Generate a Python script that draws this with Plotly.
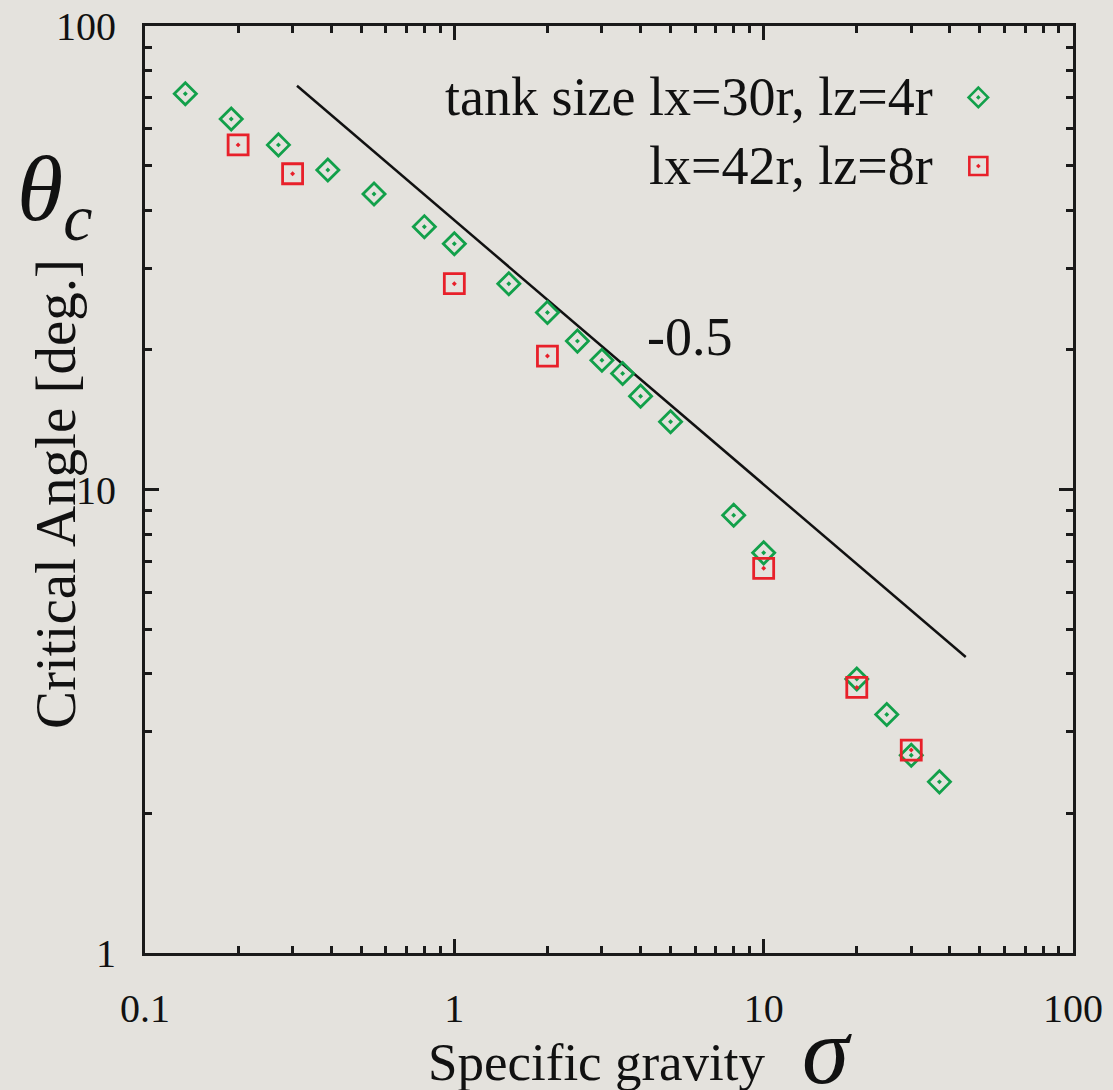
import plotly.graph_objects as go

# ---- data ----
sigma_small = [0.135, 0.19, 0.27, 0.39, 0.55, 0.8, 1.0, 1.5, 2.0, 2.5, 3.0, 3.5, 4.0, 5.0, 8.0, 10.0, 20.0, 25.0, 30.0, 37.0]
theta_small = [71.4, 63.0, 55.4, 48.9, 43.4, 36.9, 33.9, 27.8, 24.1, 20.9, 19.0, 17.8, 15.9, 14.0, 8.8, 7.3, 3.9, 3.27, 2.67, 2.34]

sigma_large = [0.2, 0.3, 1.0, 2.0, 10.0, 20.0, 30.0]
theta_large = [55.4, 48.0, 27.8, 19.4, 6.76, 3.74, 2.74]

fit_x = [0.31, 45.0]
fit_y = [74.3, 4.35]

legend_labels = ["tank size lx=30r, lz=4r", "lx=42r, lz=8r"]
x_tickvals = [0.1, 1, 10, 100]
x_ticktext = ["0.1", "1", "10", "100"]
y_tickvals = [1, 10, 100]
y_ticktext = ["1", "10", "100"]
x_minor = [m * d for d in (0.1, 1, 10) for m in range(2, 10)]
y_minor = [m * d for d in (1, 10) for m in range(2, 10)]

GREEN = "#12a04a"
RED = "#e8202a"
BG = "#e4e2dd"
FONT = "Times New Roman, Liberation Serif, Times, serif"
INK = "#1a1a1a"

fig = go.Figure()
fig.add_trace(go.Scatter(x=fit_x, y=fit_y, mode="lines",
                         line=dict(color="#111111", width=2.5), showlegend=False))
fig.add_trace(go.Scatter(x=sigma_small, y=theta_small, mode="markers",
                         marker=dict(symbol="diamond-open-dot", size=17, color=GREEN,
                                     line=dict(width=2.8, color=GREEN)),
                         showlegend=False))
fig.add_trace(go.Scatter(x=sigma_large, y=theta_large, mode="markers",
                         marker=dict(symbol="square-open-dot", size=20, color=RED,
                                     line=dict(width=2.8, color=RED)),
                         showlegend=False))

# legend keys on an overlay axis (0..1)
fig.add_trace(go.Scatter(x=[0.898], y=[0.923], xaxis="x2", yaxis="y2", mode="markers",
                         marker=dict(symbol="diamond-open-dot", size=15, color=GREEN,
                                     line=dict(width=2.6, color=GREEN)), showlegend=False))
fig.add_trace(go.Scatter(x=[0.898], y=[0.849], xaxis="x2", yaxis="y2", mode="markers",
                         marker=dict(symbol="square-open-dot", size=18, color=RED,
                                     line=dict(width=2.6, color=RED)), showlegend=False))

axis_common = dict(
    type="log", showgrid=False, zeroline=False, automargin=False,
    showline=True, linecolor=INK, linewidth=3, mirror="allticks",
    ticks="inside", ticklen=14, tickwidth=2.5, tickcolor=INK,
    tickfont=dict(family=FONT, size=40, color="#111111"),
)

fig.update_layout(
    width=1113, height=1090,
    margin=dict(l=145, r=40, t=26, b=137),
    paper_bgcolor=BG, plot_bgcolor=BG,
    font=dict(family=FONT, color="#111111"),
    xaxis=dict(range=[-1, 2], tickmode="array", tickvals=x_tickvals, ticktext=x_ticktext,
               ticklabelstandoff=18,
               minor=dict(tickmode="array", tickvals=x_minor, ticks="inside", ticklen=7,
                          tickwidth=2.5, tickcolor=INK, showgrid=False),
               **axis_common),
    yaxis=dict(range=[0, 2], tickmode="array", tickvals=y_tickvals, ticktext=y_ticktext,
               ticklabelstandoff=18,
               minor=dict(tickmode="array", tickvals=y_minor, ticks="inside", ticklen=7,
                          tickwidth=2.5, tickcolor=INK, showgrid=False),
               **axis_common),
    xaxis2=dict(overlaying="x", range=[0, 1], visible=False),
    yaxis2=dict(overlaying="y", range=[0, 1], visible=False),
    showlegend=False,
)

annotations = [
    dict(text=legend_labels[0], xref="paper", yref="paper", x=0.851, y=0.923,
         xanchor="right", yanchor="middle", showarrow=False, font=dict(size=54)),
    dict(text=legend_labels[1], xref="paper", yref="paper", x=0.851, y=0.849,
         xanchor="right", yanchor="middle", showarrow=False, font=dict(size=54)),
    dict(text="-0.5", xref="x", yref="y", x=0.761, y=1.329,
         xanchor="center", yanchor="middle", showarrow=False, font=dict(size=54)),
    dict(text="<i>θ<sub>c</sub></i>", xref="paper", yref="paper", x=-0.097, y=0.818,
         xanchor="center", yanchor="middle", showarrow=False, font=dict(size=94)),
    dict(text="Critical Angle [deg.]", xref="paper", yref="paper", x=-0.097, y=0.495,
         xanchor="center", yanchor="middle", textangle=-90, showarrow=False, font=dict(size=57)),
    dict(text="Specific gravity", xref="paper", yref="paper", x=0.487, y=-0.1176,
         xanchor="center", yanchor="middle", showarrow=False, font=dict(size=53)),
    dict(text="<i>σ</i>", xref="paper", yref="paper", x=0.735, y=-0.1057,
         xanchor="center", yanchor="middle", showarrow=False, font=dict(size=95)),
]
fig.update_layout(annotations=annotations)

fig.write_html("out.html")
